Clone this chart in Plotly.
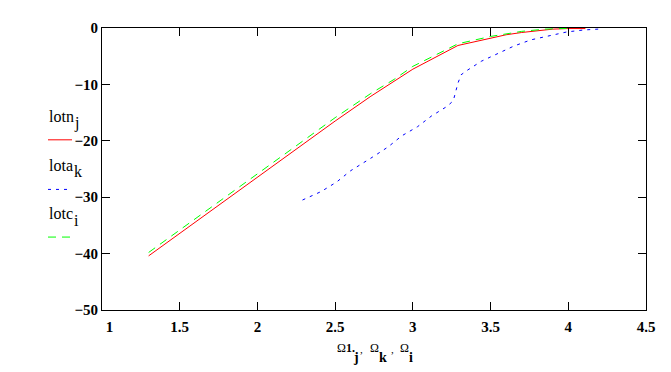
import plotly.graph_objects as go

# Red solid: lotn_j vs Omega1_j
omega1 = [1.3, 1.5, 2.0, 2.5, 2.73, 2.88, 3.0, 3.29, 3.5, 3.6, 3.7, 3.8, 3.9, 4.0, 4.11]
lotn = [-40.4, -36.4, -26.4, -16.5, -12.1, -9.5, -7.3, -3.1, -1.8, -1.2, -0.8, -0.45, -0.2, -0.1, -0.1]

# Blue dotted: lota_k vs Omega_k
omega_k = [2.29, 2.41, 2.51, 2.6, 2.74, 2.84, 2.93, 3.03, 3.12, 3.22, 3.26, 3.29, 3.31, 3.35,
           3.44, 3.55, 3.65, 3.76, 3.87, 3.99, 4.1, 4.22]
lota = [-30.5, -29.0, -27.3, -25.3, -22.9, -21.1, -19.1, -17.5, -15.6, -13.9, -12.9, -9.8, -8.3, -7.5,
        -5.9, -4.5, -3.2, -2.1, -1.4, -0.7, -0.35, -0.15]

# Green dashed: lotc_i vs Omega_i
omega_i = [1.3, 1.5, 2.0, 2.5, 2.73, 2.88, 3.0, 3.29, 3.5, 3.6, 3.7, 3.85, 4.0]
lotc = [-39.8, -35.8, -25.8, -15.9, -11.6, -9.1, -6.8, -2.8, -1.5, -1.0, -0.6, -0.2, -0.05]

x_ticks = [1, 1.5, 2, 2.5, 3, 3.5, 4, 4.5]
y_ticks = [-50, -40, -30, -20, -10, 0]

legend_base = ["lotn", "lota", "lotc"]
legend_sub = ["j", "k", "i"]
legend_colors = ["#ff0000", "#0000ff", "#00ff00"]
legend_dash = ["solid", "3px,5px", "8px,6px"]

FONT = "Liberation Serif"

fig = go.Figure()
fig.add_trace(go.Scatter(x=omega1, y=lotn, mode="lines",
                         line=dict(color=legend_colors[0], width=1, dash=legend_dash[0])))
fig.add_trace(go.Scatter(x=omega_k, y=lota, mode="lines",
                         line=dict(color=legend_colors[1], width=1, dash=legend_dash[1])))
fig.add_trace(go.Scatter(x=omega_i, y=lotc, mode="lines",
                         line=dict(color=legend_colors[2], width=1, dash=legend_dash[2])))

# page body has an 8px margin; compensate so the plot area lands at x 102..646, y 20..310
OFF = 8
W, H = 671 - OFF, 372 - OFF
L, R, T, B = 102 - OFF, 25, 20 - OFF, 62
PX0, PX1, PY0, PY1 = 102, 646, 20, 310  # plot area in window pixels


def px(x):
    return (x - PX0) / (PX1 - PX0)


def py(y):
    return (PY1 - y) / (PY1 - PY0)


axis_common = dict(showgrid=False, zeroline=False, showline=True, linecolor="black", linewidth=1,
                   mirror="ticks", ticks="inside", ticklen=8, tickcolor="black", tickwidth=1,
                   tickfont=dict(family=FONT, size=15, color="black"))

x_text = ["<b>%g</b>" % v for v in x_ticks]
x_text[0] = "<b>\u00a0\u00a0\u00a0\u00a01</b>"
fig.update_xaxes(range=[1, 4.5], tickvals=x_ticks, ticktext=x_text, ticklabelstandoff=3, **axis_common)
fig.update_yaxes(range=[-50, 0], tickvals=y_ticks,
                 ticktext=["<b>\u2212%d</b>" % -v if v else "<b>0</b>" for v in y_ticks], **axis_common)

# legend drawn manually (text above line sample, subscript lowered)
LX = 48
text_y = [111, 161, 211]
line_y = [135, 186, 235]
for base, sub, col, dash, ty, ly in zip(legend_base, legend_sub, legend_colors, legend_dash, text_y, line_y):
    fig.add_annotation(x=px(LX), y=py(ty), xref="paper", yref="paper", xanchor="left", yanchor="middle",
                       text=base, showarrow=False, borderpad=0,
                       font=dict(family=FONT, size=16, color="black"))
    fig.add_annotation(x=px(LX + 25), y=py(ty + 7), xref="paper", yref="paper", xanchor="left", yanchor="middle",
                       text=sub, showarrow=False, borderpad=0,
                       font=dict(family=FONT, size=16, color="black"))
    fig.add_shape(type="line", xref="paper", yref="paper", x0=px(LX), x1=px(LX + 24),
                  y0=py(ly), y1=py(ly), line=dict(color=col, width=1, dash=dash))

# x-axis title: Ω1_j , Ω_k , Ω_i
title_parts = [
    (336, 349, "Ω", 12, False),
    (345, 349, "1.", 12, True),
    (352, 359, "j", 14, True),
    (359, 350, ",", 11, False),
    (369, 349, "Ω", 12, False),
    (378, 359, "k", 14, True),
    (390, 350, ",", 11, False),
    (399, 349, "Ω", 12, False),
    (408, 359, "i", 14, True),
]
for x0, y0, t, sz, bold in title_parts:
    fig.add_annotation(x=px(x0), y=py(y0), xref="paper", yref="paper", xanchor="left", yanchor="middle",
                       text=("<b>%s</b>" % t) if bold else t, showarrow=False, borderpad=0,
                       font=dict(family=FONT, size=sz, color="black"))

fig.update_layout(width=W, height=H, margin=dict(l=L, r=R, t=T, b=B, pad=0),
                  paper_bgcolor="white", plot_bgcolor="white", showlegend=False)

fig.write_html("out.html")
